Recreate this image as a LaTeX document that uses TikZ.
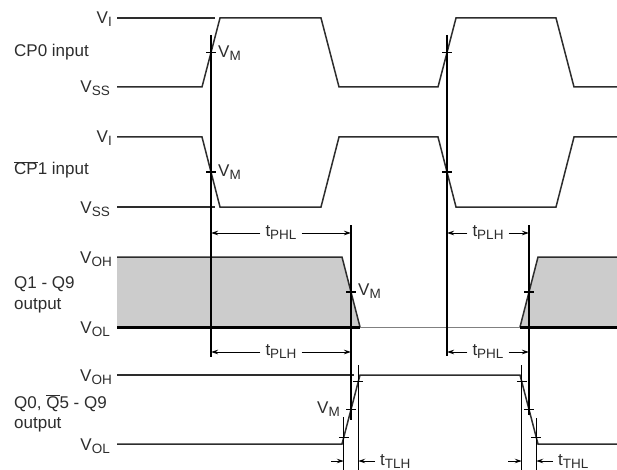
\documentclass[tikz,border=0pt]{standalone}
\usepackage{fontspec}
\setmainfont{Liberation Sans}
\usetikzlibrary{arrows.meta}
\definecolor{ink}{RGB}{45,45,45}
\definecolor{fillgray}{RGB}{204,204,204}
\newcommand\lowsub[1]{\raisebox{-3pt}{\fontsize{13.5}{14}\selectfont #1}}

\begin{document}
\begin{tikzpicture}[x=1pt, y=-1pt, >={Stealth[length=7pt,width=4.5pt]},
    sig/.style={line width=1.5pt, draw=ink},
    guide/.style={line width=1.1pt, draw=black},
    txt/.style={font=\fontsize{17}{21}\selectfont, text=ink, inner sep=0pt},
    tlabel/.style={txt, inner xsep=5pt},
    dim/.style={->, line width=1pt}]
  \useasboundingbox (0,0) rectangle (617,470);

  % 信号名
  \node[txt, anchor=base west] (cp0) at (14,57) {CP0 input};
  \node[txt, anchor=base west] (cp1) at (14,175) {$\overline{\mbox{CP}}$1 input};
  \node[txt, anchor=base west] (q1a) at (14,288) {Q1 - Q9};
  \node[txt, anchor=base west] (q1b) at (14,309) {output};
  \node[txt, anchor=base west] (q0a) at (14,408) {Q0, $\overline{\mbox{Q}}$5 - Q9};
  \node[txt, anchor=base west] (q0b) at (14,428) {output};

  % レベル
  \node[txt, anchor=base east] (vi0) at (112,24) {V\lowsub{I}};
  \node[txt, anchor=base east] (vss0) at (110,93) {V\lowsub{SS}};
  \node[txt, anchor=base east] (vi1) at (112,143) {V\lowsub{I}};
  \node[txt, anchor=base east] (vss1) at (110,213) {V\lowsub{SS}};
  \node[txt, anchor=base east] (voh1) at (112,263) {V\lowsub{OH}};
  \node[txt, anchor=base east] (vol1) at (110,333) {V\lowsub{OL}};
  \node[txt, anchor=base east] (voh2) at (112,381) {V\lowsub{OH}};
  \node[txt, anchor=base east] (vol2) at (110,450) {V\lowsub{OL}};

  % 入力波形
  \draw[sig] (117,18) -- (215,18);
  \draw[sig] (117,87) -- (202,87) -- (220,18) -- (321,18) -- (339,87) -- (438,87) -- (456,18) -- (556,18) -- (574,87) -- (617,87);
  \draw[sig] (117,207) -- (215,207);
  \draw[sig] (117,137) -- (202,137) -- (220,207) -- (321,207) -- (339,137) -- (438,137) -- (456,207) -- (556,207) -- (574,137) -- (617,137);

  % 出力波形
  \fill[fillgray] (117,257) -- (342,257) -- (360,327) -- (117,327) -- cycle;
  \fill[fillgray] (520,327) -- (538,257) -- (617,257) -- (617,327) -- cycle;
  \draw[sig] (117,257) -- (342,257) -- (360,327);
  \draw[sig] (520,327) -- (538,257) -- (617,257);
  \draw[line width=1pt, draw=gray] (360,327) -- (520,327);
  \draw[line width=3pt] (117,327) -- (360,327);
  \draw[line width=3pt] (520,327) -- (617,327);
  \draw[sig] (117,375) -- (354,375);
  \draw[sig] (117,444) -- (342,444) -- (360,375) -- (520,375) -- (538,444) -- (617,444);

  % 基準線と目盛り
  \foreach \x/\ya/\yb in {211/35/357, 447/35/356, 351/225/420, 529/225/415,
      343.8/417/470, 358.2/365/470, 521.8/365/470, 536.2/418/470}
    \draw[guide] (\x,\ya) -- (\x,\yb);
  \foreach \x/\y in {211/52.5, 447/52.5, 211/172, 447/172, 351/292, 529/292,
      358.2/381.9, 351/409.5, 343.8/437.1, 521.8/381.9, 529/409.5, 536.2/437.1}
    \draw[guide] (\x-5,\y) -- (\x+5,\y);

  \node[txt, anchor=base west] (vm0) at (218,58) {V\lowsub{M}};
  \node[txt, anchor=base west] (vm1) at (218,177) {V\lowsub{M}};
  \node[txt, anchor=base west] (vm2) at (358,295) {V\lowsub{M}};
  \node[txt, anchor=base east] (vm3) at (340,413) {V\lowsub{M}};

  % 遅延時間
  \coordinate (ra1) at (211,233); \coordinate (rb1) at (351,233);
  \coordinate (rc1) at (447,233); \coordinate (rd1) at (529,233);
  \coordinate (ra2) at (211,352); \coordinate (rb2) at (351,352);
  \coordinate (rc2) at (447,352); \coordinate (rd2) at (529,352);
  \node[tlabel] (tphl1) at (281,233) {t\lowsub{PHL}};
  \node[tlabel] (tplh1) at (488,233) {t\lowsub{PLH}};
  \node[tlabel] (tplh2) at (281,352) {t\lowsub{PLH}};
  \node[tlabel] (tphl2) at (488,352) {t\lowsub{PHL}};
  \draw[dim] (tphl1) -- (ra1); \draw[dim] (tphl1) -- (rb1);
  \draw[dim] (tplh1) -- (rc1); \draw[dim] (tplh1) -- (rd1);
  \draw[dim] (tplh2) -- (ra2); \draw[dim] (tplh2) -- (rb2);
  \draw[dim] (tphl2) -- (rc2); \draw[dim] (tphl2) -- (rd2);

  % 遷移時間
  \coordinate (tlh0) at (331,461); \coordinate (tlh1) at (343.8,461);
  \coordinate (tlh2) at (358.2,461);
  \coordinate (thl0) at (508,461); \coordinate (thl1) at (521.8,461);
  \coordinate (thl2) at (536.2,461);
  \node[tlabel, anchor=west] (ttlh) at (375,461) {t\lowsub{TLH}};
  \node[tlabel, anchor=west] (tthl) at (553,461) {t\lowsub{THL}};
  \draw[dim] (tlh0) -- (tlh1); \draw[dim] (ttlh) -- (tlh2);
  \draw[dim] (thl0) -- (thl1); \draw[dim] (tthl) -- (thl2);
\end{tikzpicture}
\end{document}
